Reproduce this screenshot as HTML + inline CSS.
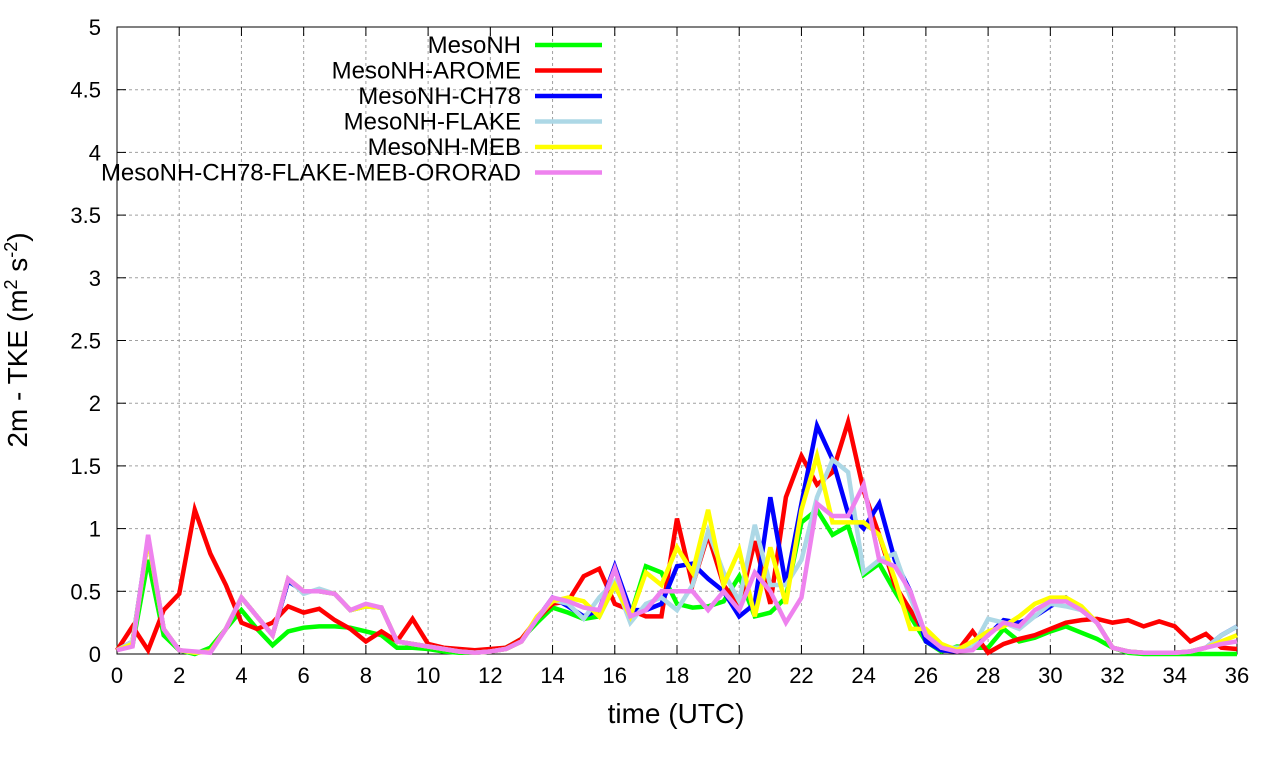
<!DOCTYPE html>
<html><head><meta charset="utf-8"><style>
body{margin:0;background:#fff;}
svg{display:block;font-family:"Liberation Sans",sans-serif;}
</style></head><body>
<svg id="chart" width="1280" height="760" xmlns="http://www.w3.org/2000/svg"></svg>
<script>
const xTicks=[0,2,4,6,8,10,12,14,16,18,20,22,24,26,28,30,32,34,36];
const yTicks=[0,0.5,1,1.5,2,2.5,3,3.5,4,4.5,5];
const yTickLabels=["0","0.5","1","1.5","2","2.5","3","3.5","4","4.5","5"];
const seriesNames=["MesoNH","MesoNH-AROME","MesoNH-CH78","MesoNH-FLAKE","MesoNH-MEB","MesoNH-CH78-FLAKE-MEB-ORORAD"];
const seriesColors=["#00ff00","#ff0000","#0000ff","#add8e6","#ffff00","#ee82ee"];
const mesonh=[0.05,0.07,0.75,0.15,0.03,0.0,0.05,0.2,0.35,0.2,0.07,0.18,0.21,0.22,0.22,0.21,0.18,0.15,0.05,0.05,0.04,0.02,0.01,0.01,0.02,0.05,0.12,0.25,0.37,0.33,0.28,0.3,0.55,0.3,0.7,0.65,0.4,0.37,0.38,0.42,0.62,0.3,0.33,0.45,1.05,1.15,0.95,1.02,0.63,0.72,0.5,0.3,0.1,0.02,0.06,0.05,0.05,0.2,0.1,0.13,0.18,0.22,0.17,0.12,0.05,0.01,0,0,0,0,0,0,0];
const arome=[0.03,0.22,0.03,0.35,0.48,1.15,0.8,0.55,0.25,0.2,0.25,0.38,0.33,0.36,0.27,0.2,0.1,0.18,0.1,0.28,0.08,0.05,0.04,0.03,0.04,0.05,0.12,0.28,0.4,0.42,0.62,0.68,0.4,0.35,0.3,0.3,1.08,0.55,0.95,0.55,0.38,0.9,0.4,1.25,1.58,1.35,1.45,1.85,1.3,0.95,0.55,0.35,0.15,0.03,0.02,0.18,0.01,0.08,0.12,0.15,0.2,0.25,0.27,0.28,0.25,0.27,0.22,0.26,0.22,0.1,0.16,0.05,0.04];
const ch78=[0.03,0.1,0.92,0.2,0.03,0.01,0.02,0.2,0.45,0.3,0.15,0.58,0.5,0.5,0.48,0.35,0.38,0.37,0.1,0.08,0.06,0.04,0.02,0.01,0.02,0.04,0.1,0.28,0.45,0.38,0.3,0.35,0.7,0.35,0.35,0.4,0.7,0.72,0.6,0.5,0.3,0.4,1.25,0.55,1.2,1.82,1.55,1.12,1.0,1.2,0.75,0.5,0.1,0.03,0.02,0.05,0.15,0.27,0.25,0.3,0.38,0.45,0.35,0.25,0.05,0.02,0.01,0.01,0.01,0.02,0.05,0.15,0.22];
const flake=[0.03,0.1,0.92,0.2,0.03,0.01,0.02,0.2,0.45,0.3,0.15,0.6,0.48,0.52,0.48,0.35,0.38,0.37,0.1,0.08,0.06,0.04,0.02,0.01,0.02,0.04,0.1,0.28,0.43,0.4,0.28,0.45,0.58,0.25,0.4,0.45,0.35,0.55,0.98,0.65,0.42,1.03,0.55,0.55,0.75,1.25,1.55,1.45,0.65,0.75,0.8,0.45,0.15,0.05,0.05,0.05,0.28,0.25,0.2,0.3,0.4,0.38,0.35,0.25,0.05,0.02,0.01,0.01,0.01,0.02,0.05,0.15,0.22];
const meb=[0.03,0.08,0.92,0.2,0.03,0.01,0.02,0.2,0.45,0.3,0.15,0.6,0.5,0.5,0.48,0.35,0.38,0.37,0.1,0.08,0.06,0.04,0.02,0.01,0.02,0.04,0.1,0.3,0.42,0.45,0.42,0.3,0.55,0.3,0.65,0.55,0.85,0.65,1.15,0.55,0.83,0.3,0.85,0.4,1.15,1.58,1.05,1.05,1.05,0.95,0.6,0.2,0.2,0.08,0.03,0.1,0.18,0.22,0.3,0.4,0.45,0.45,0.38,0.25,0.05,0.02,0.01,0.01,0.01,0.02,0.05,0.1,0.15];
const ororad=[0.03,0.06,0.95,0.2,0.03,0.02,0.01,0.2,0.45,0.3,0.15,0.6,0.5,0.5,0.48,0.35,0.4,0.37,0.1,0.08,0.06,0.04,0.02,0.01,0.02,0.04,0.1,0.28,0.45,0.42,0.37,0.35,0.68,0.3,0.35,0.5,0.5,0.5,0.35,0.5,0.35,0.65,0.5,0.25,0.45,1.2,1.1,1.1,1.35,0.75,0.7,0.5,0.15,0.05,0.02,0.03,0.15,0.25,0.22,0.35,0.42,0.42,0.35,0.25,0.05,0.02,0.01,0.01,0.01,0.02,0.05,0.08,0.1];
const allSeries=[mesonh,arome,ch78,flake,meb,ororad];
const dataNames=["series-mesonh","series-arome","series-ch78","series-flake","series-meb","series-ororad"];

const L=117,R=1237,T=27,B=654,NS="http://www.w3.org/2000/svg";
const X=t=>L+(t/36)*(R-L);
const Y=v=>B-(v/5)*(B-T);
const svg=document.getElementById('chart');
function mk(tag,attrs,parent){const e=document.createElementNS(NS,tag);for(const k in attrs)e.setAttribute(k,attrs[k]);(parent||svg).appendChild(e);return e;}

const grid=mk('g',{});


xTicks.forEach(t=>{if(t>0&&t<36)mk('line',{x1:X(t),x2:X(t),y1:T,y2:B,stroke:'#a0a0a0','stroke-dasharray':'3,3','stroke-width':1},grid);});
yTicks.forEach(v=>{if(v>0&&v<5)mk('line',{x1:L,x2:R,y1:Y(v),y2:Y(v),stroke:'#a0a0a0','stroke-dasharray':'3,3','stroke-width':1},grid);});

const ax=mk('g',{});


xTicks.forEach(t=>{
 mk('line',{x1:X(t),x2:X(t),y1:B,y2:B-9,stroke:'#000'},ax);
 mk('line',{x1:X(t),x2:X(t),y1:T,y2:T+9,stroke:'#000'},ax);
 const tx=mk('text',{x:X(t),y:B+29,'text-anchor':'middle','font-size':22},ax);
 
 
 tx.textContent=t;
});
yTicks.forEach((v,i)=>{
 mk('line',{x1:L,x2:L+9,y1:Y(v),y2:Y(v),stroke:'#000'},ax);
 mk('line',{x1:R,x2:R-9,y1:Y(v),y2:Y(v),stroke:'#000'},ax);
 const tx=mk('text',{x:L-16,y:Y(v)+8,'text-anchor':'end','font-size':22},ax);
 
 
 tx.textContent=yTickLabels[i];
});

const plot=mk('g',{});


allSeries.forEach((s,i)=>{
 const pts=s.map((v,j)=>X(j*0.5)+','+Y(v)).join(' ');
 const p=mk('polyline',{points:pts,fill:'none',stroke:seriesColors[i],'stroke-width':4.5,'stroke-linejoin':'miter'},plot);
 
 
});
mk('rect',{x:L,y:T,width:R-L,height:B-T,fill:'none',stroke:'#000','stroke-width':1},ax);

const leg=mk('g',{});


seriesNames.forEach((n,i)=>{
 const y=45+i*25.5;
 const tx=mk('text',{x:521,y:y+8,'text-anchor':'end','font-size':24},leg);
 
 
 tx.textContent=n;
 const ln=mk('line',{x1:535,x2:602,y1:y,y2:y,stroke:seriesColors[i],'stroke-width':4.5},leg);
 
 
});

const xt=mk('text',{x:676,y:723,'text-anchor':'middle','font-size':28});


xt.textContent='time (UTC)';
const yt=mk('text',{x:0,y:0,'text-anchor':'middle','font-size':28,transform:'translate(27,340) rotate(-90)'});


yt.innerHTML='2m - TKE (m<tspan dy="-10" font-size="18">2</tspan><tspan dy="10"> s</tspan><tspan dy="-10" font-size="18">-2</tspan><tspan dy="10">)</tspan>';
</script>
</body></html>
